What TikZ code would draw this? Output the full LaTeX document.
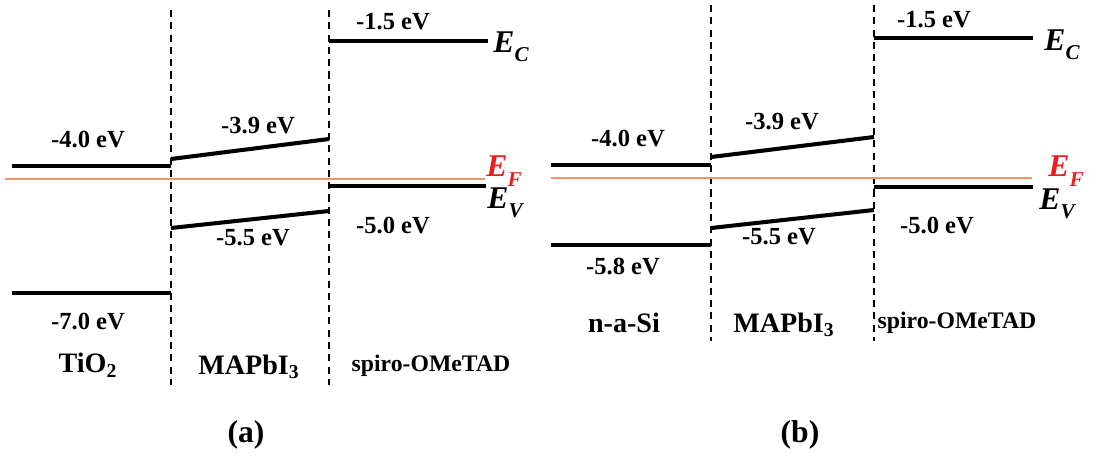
\documentclass[tikz,border=0pt]{standalone}
\usepackage{fontspec}
\setmainfont{Liberation Serif}
\usepackage{tikz}
\usetikzlibrary{positioning}
\definecolor{fermiorange}{RGB}{240, 150, 100}
\definecolor{fermired}{RGB}{235, 30, 30}
\newcommand{\elab}[2]{#1\raisebox{-0.3em}{\fontsize{12}{12}\selectfont #2}}

\begin{document}
\begin{tikzpicture}[
    x=0.02cm, y=-0.02cm,
    every node/.style={align=center, font=\fontsize{14}{16}\selectfont\bfseries},
    band/.style={line width=2.3pt, black},
    iface/.style={dashed, line width=0.6pt, dash pattern=on 4pt off 3pt},
    fermi/.style={line width=0.8pt, fermiorange},
    elevel/.style={inner sep=0pt, font=\fontsize{18}{20}\selectfont\bfseries\itshape},
    layer/.style={font=\fontsize{16}{18}\selectfont\bfseries},
    spiro/.style={font=\fontsize{13.5}{16}\selectfont\bfseries},
    caption/.style={font=\fontsize{18}{20}\selectfont\bfseries}
]
\useasboundingbox (0,0) rectangle (1100,457);

% ---------- panel (a) ----------
\coordinate (aTop1) at (171,10);   \coordinate (aBot1) at (171,385);
\coordinate (aTop2) at (329,10);   \coordinate (aBot2) at (329,385);
\draw[iface] (aTop1) -- (aBot1);
\draw[iface] (aTop2) -- (aBot2);

\coordinate (aTiCL) at (12,166);   \coordinate (aTiCR) at (171,166);
\coordinate (aTiVL) at (12,293);   \coordinate (aTiVR) at (171,293);
\coordinate (aPbCL) at (171,159);  \coordinate (aPbCR) at (329,139);
\coordinate (aPbVL) at (171,228);  \coordinate (aPbVR) at (329,211);
\coordinate (aSpCL) at (329,41);   \coordinate (aSpCR) at (488,41);
\coordinate (aSpVL) at (329,186);  \coordinate (aSpVR) at (486,186);
\coordinate (aFL) at (5,179);      \coordinate (aFR) at (485,179);

\draw[fermi] (aFL) -- (aFR);
\draw[band] (aTiCL) -- (aTiCR);
\draw[band] (aTiVL) -- (aTiVR);
\draw[band] (aPbCL) -- (aPbCR);
\draw[band] (aPbVL) -- (aPbVR);
\draw[band] (aSpCL) -- (aSpCR);
\draw[band] (aSpVL) -- (aSpVR);

\node (aTiC) at (88,140) {-4.0 eV};
\node (aTiV) at (88,322) {-7.0 eV};
\node (aPbC) at (258,126) {-3.9 eV};
\node (aPbV) at (253,238) {-5.5 eV};
\node (aSpC) at (393,22) {-1.5 eV};
\node (aSpV) at (393,226) {-5.0 eV};
\node[elevel] (aEC) at (511,47) {\elab{E}{C}};
\node[elevel, text=fermired] (aEF) at (504,171) {\elab{E}{F}};
\node[elevel] (aEV) at (505,203) {\elab{E}{V}};
\node[layer] (aTi) at (88,365) {TiO\textsubscript{2}};
\node[layer] (aPb) at (249,367) {MAPbI\textsubscript{3}};
\node[spiro] (aSp) at (431,366) {spiro-OMeTAD};
\node[caption] (capA) at (246,435) {(a)};

% ---------- panel (b) ----------
\coordinate (bTop1) at (711,5);    \coordinate (bBot1) at (711,341);
\coordinate (bTop2) at (874,5);    \coordinate (bBot2) at (874,341);
\draw[iface] (bTop1) -- (bBot1);
\draw[iface] (bTop2) -- (bBot2);

\coordinate (bSiCL) at (551,165);  \coordinate (bSiCR) at (711,165);
\coordinate (bSiVL) at (551,245);  \coordinate (bSiVR) at (711,245);
\coordinate (bPbCL) at (711,157);  \coordinate (bPbCR) at (874,137);
\coordinate (bPbVL) at (711,228);  \coordinate (bPbVR) at (874,210);
\coordinate (bSpCL) at (874,38);   \coordinate (bSpCR) at (1033,38);
\coordinate (bSpVL) at (874,187);  \coordinate (bSpVR) at (1033,187);
\coordinate (bFL) at (551,178);    \coordinate (bFR) at (1032,178);

\draw[fermi] (bFL) -- (bFR);
\draw[band] (bSiCL) -- (bSiCR);
\draw[band] (bSiVL) -- (bSiVR);
\draw[band] (bPbCL) -- (bPbCR);
\draw[band] (bPbVL) -- (bPbVR);
\draw[band] (bSpCL) -- (bSpCR);
\draw[band] (bSpVL) -- (bSpVR);

\node (bSiC) at (628,139) {-4.0 eV};
\node (bSiV) at (623,267) {-5.8 eV};
\node (bPbC) at (782,122) {-3.9 eV};
\node (bPbV) at (779,237) {-5.5 eV};
\node (bSpC) at (934,20) {-1.5 eV};
\node (bSpV) at (937,226) {-5.0 eV};
\node[elevel] (bEC) at (1062,45) {\elab{E}{C}};
\node[elevel, text=fermired] (bEF) at (1066,171) {\elab{E}{F}};
\node[elevel] (bEV) at (1057,204) {\elab{E}{V}};
\node[layer] (bSi) at (624,323) {n-a-Si};
\node[layer] (bPb) at (784,325) {MAPbI\textsubscript{3}};
\node[spiro] (bSp) at (957,323) {spiro-OMeTAD};
\node[caption] (capB) at (800,435) {(b)};

\end{tikzpicture}
\end{document}
